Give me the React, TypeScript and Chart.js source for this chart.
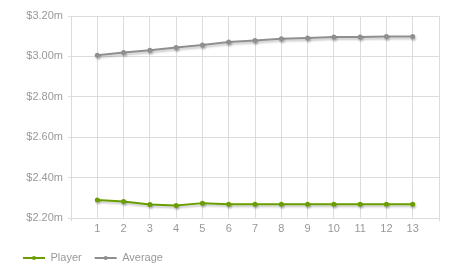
import React, { useEffect, useRef } from 'react';
import { Chart, registerables } from 'chart.js';

Chart.register(...registerables);

const rounds = [1, 2, 3, 4, 5, 6, 7, 8, 9, 10, 11, 12, 13];
const playerValues = [2.291, 2.283, 2.268, 2.263, 2.275, 2.27, 2.27, 2.27, 2.27, 2.27, 2.27, 2.27, 2.27];
const averageValues = [3.006, 3.019, 3.031, 3.044, 3.057, 3.071, 3.079, 3.087, 3.091, 3.096, 3.096, 3.099, 3.099];
const seriesNames = ['Player', 'Average'];
const seriesColors = ['#6a9e00', '#8f8f8f'];

const shadowPlugin = {
  id: 'lineShadow',
  beforeDatasetDraw(chart: any) {
    const ctx = chart.ctx;
    ctx.save();
    ctx.shadowColor = 'rgba(0,0,0,0.22)';
    ctx.shadowBlur = 2;
    ctx.shadowOffsetX = 1;
    ctx.shadowOffsetY = 2;
  },
  afterDatasetDraw(chart: any) {
    chart.ctx.restore();
  },
};

const legendDotPlugin = {
  id: 'legendDot',
  afterDraw(chart: any) {
    const legend = chart.legend;
    if (!legend || !legend.legendHitBoxes) return;
    const ctx = chart.ctx;
    legend.legendHitBoxes.forEach((box: any, i: number) => {
      const cx = box.left + 11;
      const cy = box.top + box.height / 2;
      ctx.save();
      ctx.fillStyle = seriesColors[i];
      ctx.beginPath();
      ctx.arc(cx, cy, 2, 0, Math.PI * 2);
      ctx.fill();
      ctx.restore();
    });
  },
};

export default function App() {
  const ref = useRef<HTMLCanvasElement | null>(null);
  useEffect(() => {
    if (!ref.current) return;
    const font = { family: 'Arial, "Liberation Sans", sans-serif', size: 11 };
    const chart = new Chart(ref.current, {
      type: 'line',
      data: {
        datasets: [playerValues, averageValues].map((vals, i) => ({
          label: seriesNames[i],
          data: rounds.map((r, j) => ({ x: r, y: vals[j] })),
          borderColor: seriesColors[i],
          backgroundColor: seriesColors[i],
          pointBackgroundColor: seriesColors[i],
          pointBorderColor: seriesColors[i],
          borderWidth: 2,
          pointRadius: 2.5,
          pointBorderWidth: 0,
          tension: 0,
          fill: false,
        })),
      },
      options: {
        animation: false,
        responsive: false,
        layout: { padding: { left: 10, right: 15, top: 16, bottom: 5.5 } },
        plugins: {
          tooltip: { enabled: false },
          legend: {
            position: 'bottom',
            align: 'start',
            labels: {
              boxWidth: 22,
              boxHeight: 2,
              padding: 13,
              color: '#999',
              font,
              generateLabels: (c: any) =>
                c.data.datasets.map((d: any, i: number) => ({
                  text: d.label,
                  fillStyle: seriesColors[i],
                  strokeStyle: seriesColors[i],
                  lineWidth: 0,
                  fontColor: '#999',
                  hidden: false,
                  datasetIndex: i,
                })),
            },
          },
        },
        scales: {
          x: {
            type: 'linear',
            min: 0,
            max: 14,
            border: { display: false },
            afterFit: (s: any) => {
              s.height = s.height + 3;
            },
            grid: {
              color: '#dcdcdc',
              lineWidth: 1,
              tickLength: 3,
              tickColor: (ctx: any) =>
                ctx.tick && (ctx.tick.value === 0 || ctx.tick.value === 14) ? '#dcdcdc' : 'rgba(0,0,0,0)',
            },
            ticks: {
              stepSize: 1,
              autoSkip: false,
              maxRotation: 0,
              padding: 1,
              color: '#999',
              font,
              callback: (v: any) => (v >= 1 && v <= 13 ? String(v) : ''),
            },
          },
          y: {
            min: 2.2,
            max: 3.2,
            border: { display: false },
            afterFit: (s: any) => {
              s.width = 61;
            },
            grid: { color: '#dcdcdc', lineWidth: 1, tickLength: 3, tickColor: '#dcdcdc' },
            ticks: {
              stepSize: 0.2,
              padding: 5,
              color: '#999',
              font,
              callback: (v: any) => '$' + Number(v).toFixed(2) + 'm',
            },
          },
        },
      } as any,
      plugins: [shadowPlugin, legendDotPlugin],
    });
    return () => chart.destroy();
  }, []);
  return (
    <canvas
      ref={ref}
      width={454}
      height={279}
      style={{ position: 'absolute', left: 0, top: 0, display: 'block' }}
    />
  );
}
